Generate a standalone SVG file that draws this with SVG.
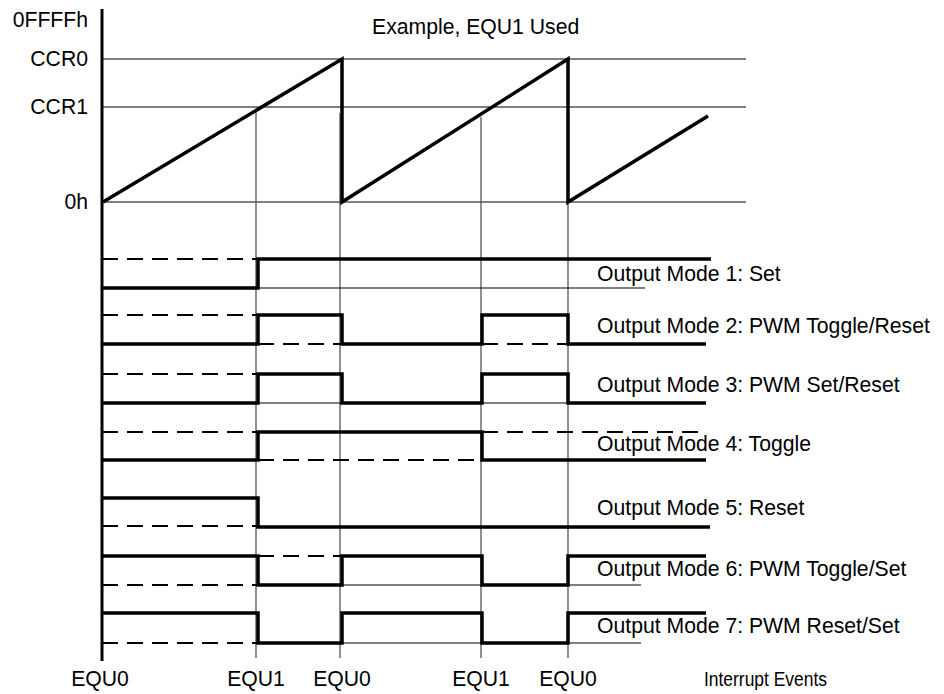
<svg xmlns="http://www.w3.org/2000/svg" width="944" height="694" viewBox="0 0 944 694">
<style>
text{font-family:"Liberation Sans",Arial,Helvetica,sans-serif;font-size:21.2px;fill:#000}
.thick{fill:none;stroke:#000;stroke-width:3.5;stroke-linejoin:miter;stroke-linecap:butt}
.thin{fill:none;stroke:#000;stroke-width:1.2}
.grid{fill:none;stroke:#555;stroke-width:1.3}
.dash{fill:none;stroke:#000;stroke-width:2;stroke-dasharray:16 9}
.r{text-anchor:end}
.m{text-anchor:middle}
.small{font-size:20px}
</style>
<rect width="944" height="694" fill="#fff"/>
<g id="axes">
<line class="thin" x1="102" y1="59" x2="746" y2="59"/>
<line class="thin" x1="102" y1="107" x2="746" y2="107"/>
<line class="thin" x1="102" y1="202" x2="746" y2="202"/>
<line class="grid" x1="256" y1="110" x2="256" y2="658"/>
<line class="grid" x1="340" y1="113" x2="340" y2="658"/>
<line class="grid" x1="481" y1="117" x2="481" y2="658"/>
<line class="grid" x1="568" y1="202" x2="568" y2="658"/>
<line x1="102" y1="9" x2="102" y2="661" stroke="#000" stroke-width="3"/>
<text class="r" x="88" y="27">0FFFFh</text>
<text class="r" x="88" y="66">CCR0</text>
<text class="r" x="88" y="114">CCR1</text>
<text class="r" x="88" y="209">0h</text>
<text x="372" y="34">Example, EQU1 Used</text>
</g>
<g id="ramp">
<path class="thick" d="M103,202 L342,59 V202 L568,59 V202 L708,116"/>
</g>
<g id="mode1">
<path class="dash" d="M102,259 H257"/>
<path class="thin" d="M258,288 H645"/>
<path class="thick" d="M102,288 H258 V259 H711"/>
<text x="597" y="281">Output Mode 1: Set</text>
</g>
<g id="mode2">
<path class="dash" d="M102,315 H257 M258,344 H342 M482,344 H568"/>
<path class="thick" d="M102,344 H258 V315 H342 V344 H482 V315 H568 V344 H706"/>
<text x="597" y="333">Output Mode 2: PWM Toggle/Reset</text>
</g>
<g id="mode3">
<path class="dash" d="M102,374 H257"/>
<path class="thin" d="M258,403 H342 M482,403 H568"/>
<path class="thick" d="M102,403 H258 V374 H342 V403 H482 V374 H568 V403 H706"/>
<text x="597" y="392">Output Mode 3: PWM Set/Reset</text>
</g>
<g id="mode4">
<path class="dash" d="M102,432 H257 M258,460 H482 M482,432 H706"/>
<path class="thick" d="M102,460 H258 V432 H482 V460 H706"/>
<text x="597" y="451">Output Mode 4: Toggle</text>
</g>
<g id="mode5">
<path class="dash" d="M102,526 H257"/>
<path class="thick" d="M102,498 H258 V527 H710"/>
<text x="597" y="515">Output Mode 5: Reset</text>
</g>
<g id="mode6">
<path class="dash" d="M102,585 H257 M258,556 H342"/>
<path class="thin" d="M342,585 H641"/>
<path class="thick" d="M102,556 H258 V585 H342 V556 H482 V585 H568 V556 H706"/>
<text x="597" y="576">Output Mode 6: PWM Toggle/Set</text>
</g>
<g id="mode7">
<path class="dash" d="M102,643 H257"/>
<path class="thin" d="M342,643 H641"/>
<path class="thick" d="M102,613 H258 V643 H342 V613 H482 V643 H568 V613 H706"/>
<text x="597" y="633">Output Mode 7: PWM Reset/Set</text>
</g>
<g id="events">
<text class="m" x="100" y="686">EQU0</text>
<text class="m" x="256" y="686">EQU1</text>
<text class="m" x="342" y="686">EQU0</text>
<text class="m" x="481" y="686">EQU1</text>
<text class="m" x="568" y="686">EQU0</text>
<text class="small" x="704" y="686" textLength="123" lengthAdjust="spacingAndGlyphs">Interrupt Events</text>
</g>
</svg>
